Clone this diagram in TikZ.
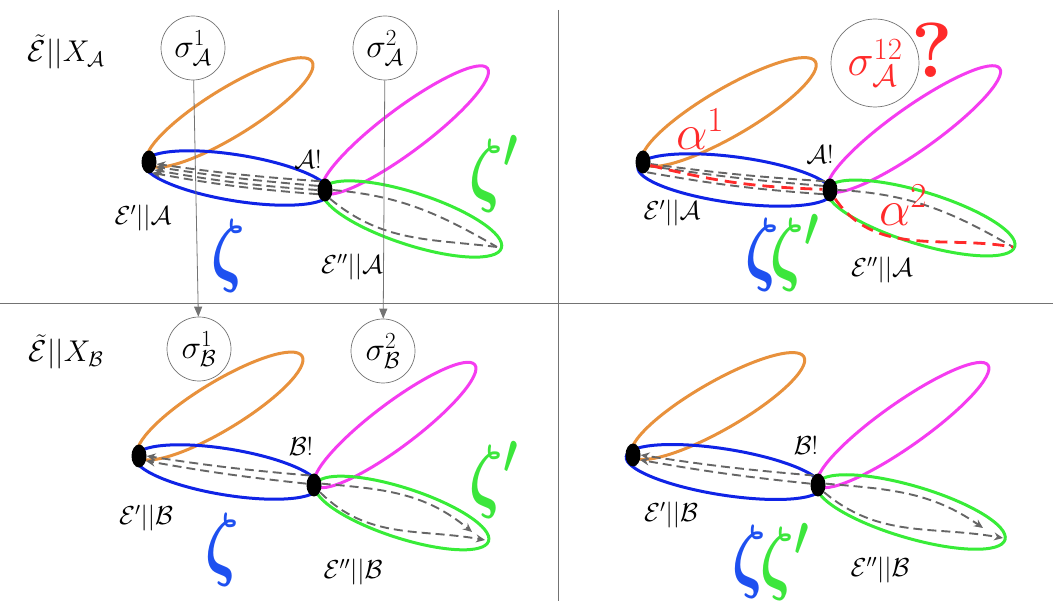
\documentclass[tikz,border=0pt]{standalone}
\usepackage{fix-cm}
\usepackage{amsmath}
\usetikzlibrary{arrows.meta,shapes.geometric}
\definecolor{lobeorange}{HTML}{E8913C}
\definecolor{lobeblue}{HTML}{0F23E6}
\definecolor{lobemagenta}{HTML}{F53CF0}
\definecolor{lobegreen}{HTML}{38EC38}
\definecolor{dashgray}{HTML}{666666}
\definecolor{alphared}{HTML}{FF2A2A}
\definecolor{zetablue}{HTML}{1E50F0}
\definecolor{zetagreen}{HTML}{3CE63C}

\begin{document}
\begin{tikzpicture}[x=1pt,y=-1pt,
  lobe/.style={line width=3pt},
  junction/.style={ellipse,fill=black,inner sep=0pt,minimum width=15pt,minimum height=23pt},
  dashline/.style={draw=dashgray,line width=1.9pt,dash pattern=on 9pt off 5pt},
  dasharrow/.style={dashline,-{Stealth[length=9pt,width=8pt,fill=dashgray]}},
  reddash/.style={draw=alphared,line width=2.8pt,dash pattern=on 12pt off 7pt},
  sigma/.style={circle,draw=black!55,line width=0.7pt,minimum size=64pt,inner sep=0pt,font=\fontsize{33}{33}\selectfont},
  sigline/.style={draw=black!55,line width=0.8pt,-{Triangle[length=10pt,width=8pt]}},
  lbl/.style={inner sep=0pt,font=\fontsize{26}{26}\selectfont},
  biglbl/.style={inner sep=0pt,font=\fontsize{30}{30}\selectfont},
  zeta/.style={inner sep=0pt,font=\fontsize{82}{82}\selectfont},
  redlbl/.style={inner sep=0pt,text=alphared,font=\fontsize{50}{50}\selectfont}]
\useasboundingbox (0,0) rectangle (1053,601);
% panel dividers
\draw[black!55,line width=0.9pt] (0,303) -- (1053,303);
\draw[black!55,line width=0.9pt] (558,10) -- (558,601);

% top left
\draw[lobe,draw=lobeorange,rotate around={31.6:(229.5,112.5)}] (229.5,112.5) ellipse (97 and 24);
\draw[lobe,draw=lobeblue,rotate around={-9.2:(237,178)}] (237,178) ellipse (94 and 23);
\draw[lobe,draw=lobemagenta,rotate around={36.8:(405,130)}] (405,130) ellipse (103 and 22);
\draw[lobe,draw=lobegreen,rotate around={-18:(412,219)}] (412,219) ellipse (94 and 26);
\node[junction] (tlL) at (149,162) {};
\node[junction] (tlR) at (325,190) {};
\coordinate (tlG) at (497,247);
\draw[dasharrow] (tlR.120) to[bend left=2] (tlL.-15);
\draw[dasharrow] (tlR.150) to[bend left=2] (tlL.-35);
\draw[dasharrow] (tlR.180) to[bend left=3] (tlL.-55);
\draw[dasharrow] (tlR.210) to[bend left=3] (tlL.-75);
\draw[dashline] (tlR.east) to[out=-5,in=150] (tlG);
\draw[dashline] (tlR.-60) to[out=-40,in=173] (tlG);
\node[biglbl] (xA) at (66,52) {$\tilde{\mathcal{E}}||X_{\mathcal{A}}$};
\node[sigma] (s1A) at (193,48) {$\sigma^1_{\mathcal{A}}$};
\node[sigma] (s2A) at (385,48) {$\sigma^2_{\mathcal{A}}$};
\node[lbl] (tlbang) at (308,159) {$\mathcal{A}!$};
\node[lbl] (tlE1) at (143,218) {$\mathcal{E}'||\mathcal{A}$};
\node[lbl] (tlE2) at (352,267) {$\mathcal{E}''||\mathcal{A}$};
\node[zeta,text=zetablue] (tlz1) at (228,256) {\scalebox{0.72}[1]{$\boldsymbol{\zeta}$}};
\node[zeta,text=zetagreen] (tlz2) at (494,174) {\scalebox{0.72}[1]{$\boldsymbol{\zeta'}$}};

% top right
\draw[lobe,draw=lobeorange,rotate around={30.2:(729,112)}] (729,112) ellipse (100 and 24);
\draw[lobe,draw=lobeblue,rotate around={-7.6:(735,180)}] (735,180) ellipse (98 and 23);
\draw[lobe,draw=lobemagenta,rotate around={35.3:(914,129)}] (914,129) ellipse (105 and 22);
\draw[lobe,draw=lobegreen,rotate around={-17:(921,218)}] (921,218) ellipse (98 and 26);
\node[junction] (trL) at (643,162) {};
\node[junction] (trR) at (830,190) {};
\coordinate (trG) at (1013,247);
\draw[dashline] (trR.120) to[bend left=2] (trL.-15);
\draw[dashline] (trR.150) to[bend left=2] (trL.-30);
\draw[dashline] (trR.210) to[bend left=3] (trL.-70);
\draw[reddash] (trL.-25) to[bend right=6] (trR.175);
\draw[dashline] (trR.east) to[out=-3,in=150] (trG);
\draw[reddash] (trR.-60) to[out=-55,in=170] (trG);
\node[lbl] (trbang) at (820,154) {$\mathcal{A}!$};
\node[lbl] (trE1) at (672,213) {$\mathcal{E}'||\mathcal{A}$};
\node[lbl] (trE2) at (882,270) {$\mathcal{E}''||\mathcal{A}$};
\node[zeta,text=zetablue] (trz1) at (762,255) {\scalebox{0.72}[1]{$\boldsymbol{\zeta}$}};
\node[zeta,text=zetagreen] (trz2) at (795,253) {\scalebox{0.72}[1]{$\boldsymbol{\zeta'}$}};
\node[redlbl] (al1) at (700,129) {$\alpha^1$};
\node[redlbl] (al2) at (903,205) {$\alpha^2$};
\node[sigma,minimum size=88pt,text=alphared,font=\fontsize{44}{44}\selectfont] (s12A) at (875,63) {$\sigma^{12}_{\mathcal{A}}$};
\node[inner sep=0pt,text=alphared,font=\fontsize{78}{78}\selectfont\bfseries] (qm) at (932,50) {?};

% bottom left
\draw[lobe,draw=lobeorange,rotate around={31.3:(220,406)}] (220,406) ellipse (96 and 24);
\draw[lobe,draw=lobeblue,rotate around={-9.3:(227,472)}] (227,472) ellipse (93 and 23);
\draw[lobe,draw=lobemagenta,rotate around={37:(395,425)}] (395,425) ellipse (100 and 22);
\draw[lobe,draw=lobegreen,rotate around={-18:(402,513)}] (402,513) ellipse (91 and 25);
\node[junction] (blL) at (139,456) {};
\node[junction] (blR) at (314,485) {};
\coordinate (blG1) at (472,532);
\coordinate (blG2) at (485,540);
\draw[dasharrow] (blR.115) to[bend left=2] (blL.0);
\draw[dasharrow] (blR.170) to[bend left=2] (blL.-35);
\draw[dasharrow] (blR.10) to[out=-5,in=140] (blG1);
\draw[dasharrow] (blR.-50) to[out=-45,in=170] (blG2);
\node[biglbl] (xB) at (66,352) {$\tilde{\mathcal{E}}||X_{\mathcal{B}}$};
\node[sigma] (s1B) at (199,349) {$\sigma^1_{\mathcal{B}}$};
\node[sigma] (s2B) at (383,351) {$\sigma^2_{\mathcal{B}}$};
\node[lbl] (blbang) at (301,446) {$\mathcal{B}!$};
\node[lbl] (blE1) at (146,518) {$\mathcal{E}'||\mathcal{B}$};
\node[lbl] (blE2) at (353,572) {$\mathcal{E}''||\mathcal{B}$};
\node[zeta,text=zetablue] (blz1) at (222,550) {\scalebox{0.72}[1]{$\boldsymbol{\zeta}$}};
\node[zeta,text=zetagreen] (blz2) at (494,480) {\scalebox{0.72}[1]{$\boldsymbol{\zeta'}$}};

% bottom right
\draw[lobe,draw=lobeorange,rotate around={29.8:(718,406)}] (718,406) ellipse (99 and 24);
\draw[lobe,draw=lobeblue,rotate around={-9:(724,472)}] (724,472) ellipse (99 and 23);
\draw[lobe,draw=lobemagenta,rotate around={35.2:(903,425)}] (903,425) ellipse (104 and 22);
\draw[lobe,draw=lobegreen,rotate around={-16.4:(911,512)}] (911,512) ellipse (98 and 26);
\node[junction] (brL) at (633,455) {};
\node[junction] (brR) at (818,485) {};
\coordinate (brG1) at (983,528);
\coordinate (brG2) at (1003,538);
\draw[dasharrow] (brR.115) to[bend left=2] (brL.0);
\draw[dasharrow] (brR.170) to[bend left=2] (brL.-35);
\draw[dasharrow] (brR.10) to[out=-5,in=145] (brG1);
\draw[dasharrow] (brR.-50) to[out=-40,in=170] (brG2);
\node[lbl] (brbang) at (806,445) {$\mathcal{B}!$};
\node[lbl] (brE1) at (671,515) {$\mathcal{E}'||\mathcal{B}$};
\node[lbl] (brE2) at (880,570) {$\mathcal{E}''||\mathcal{B}$};
\node[zeta,text=zetablue] (brz1) at (749,562) {\scalebox{0.72}[1]{$\boldsymbol{\zeta}$}};
\node[zeta,text=zetagreen] (brz2) at (785,562) {\scalebox{0.72}[1]{$\boldsymbol{\zeta'}$}};

% sigma maps
\draw[sigline] (s1A) -- (s1B);
\draw[sigline] (s2A) -- (s2B);
\end{tikzpicture}
\end{document}
